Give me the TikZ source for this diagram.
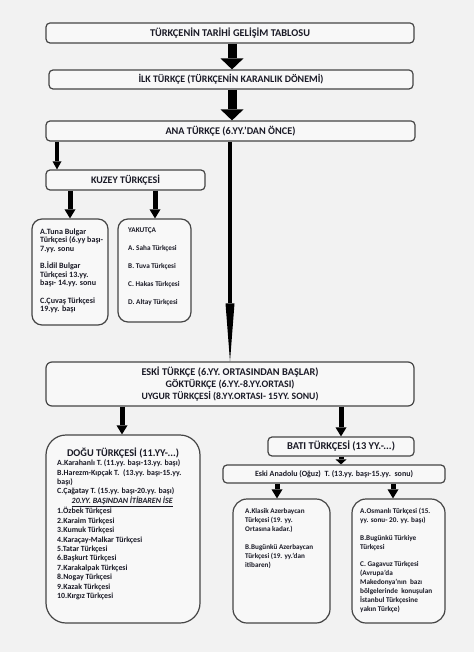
\documentclass[tikz,border=0pt]{standalone}
\usepackage{fontspec}
\setmainfont{Carlito}
\usetikzlibrary{arrows.meta}
\definecolor{bg}{HTML}{F2F2F2}
\definecolor{boxfill}{HTML}{F8F8F8}
\definecolor{edge}{HTML}{454545}
\definecolor{ink}{HTML}{1A1A26}
\newlength\mytmpw
% #1 macro, #2 target width in pt, #3 sample text (bold)
\newcommand\setfs[3]{%
  \settowidth\mytmpw{\normalfont\bfseries\fontsize{10}{12}\selectfont #3}%
  \pgfmathsetmacro#1{10*#2/\mytmpw}\global\let#1#1}
\newcommand\setfsit[3]{%
  \settowidth\mytmpw{\normalfont\bfseries\itshape\fontsize{10}{12}\selectfont #3}%
  \pgfmathsetmacro#1{10*#2/\mytmpw}\global\let#1#1}
\newcommand\fs[2]{\bfseries\fontsize{#1}{#2}\selectfont}
\begin{document}
% font sizes fitted to the widths measured on the reference
\setfs{\fsA}{160}{TÜRKÇENİN TARİHİ GELİŞİM TABLOSU}%
\setfs{\fsB}{185}{İLK TÜRKÇE (TÜRKÇENİN KARANLIK DÖNEMİ)}%
\setfs{\fsC}{130}{ANA TÜRKÇE (6.YY.’DAN ÖNCE)}%
\setfs{\fsK}{69}{KUZEY TÜRKÇESİ}%
\setfs{\fsEa}{177}{ESKİ TÜRKÇE (6.YY. ORTASINDAN BAŞLAR)}%
\setfs{\fsEb}{129}{GÖKTÜRKÇE (6.YY.-8.YY.ORTASI)}%
\setfs{\fsEc}{177}{UYGUR TÜRKÇESİ (8.YY.ORTASI- 15YY. SONU)}%
\setfs{\fsDt}{112}{DOĞU TÜRKÇESİ (11.YY-...)}%
\setfs{\fsBt}{108}{BATI TÜRKÇESİ (13 YY.-...)}%
\setfs{\fsAn}{158}{Eski Anadolu (Oğuz)~~T. (13.yy. başı-15.yy.~~sonu)}%
\setfs{\fsDl}{123}{A.Karahanlı T. (11.yy. başı-13.yy. başı)}%
\setfsit{\fsU}{101}{20.YY. BAŞINDAN İTİBAREN İSE}%
\setfs{\fsKl}{63}{Türkçesi (6.yy başı-}%
\setfs{\fsKr}{48.5}{A. Saha Türkçesi}%
\setfs{\fsBl}{68}{B.Bugünkü Azerbaycan}%
\setfs{\fsBr}{72}{bölgelerinde~~konuşulan}%
\begin{tikzpicture}[x=1pt,y=-1pt,
  box/.style={draw=edge, line width=1.2pt, fill=boxfill, rounded corners=4pt,
    inner sep=0pt, text=ink, align=center},
  listtext/.style={inner sep=0pt, anchor=north west, align=left, text=ink},
  bigarrow/.style={line width=9pt, -{Triangle[width=23pt,length=11pt,line width=0pt]}},
  thinarrow/.style={line width=4.5pt, -{Triangle[width=9pt,length=8pt,line width=0pt]}},
  medarrow/.style={line width=5pt, -{Triangle[width=11pt,length=9pt,line width=0pt]}},
  longarrow/.style={line width=4.5pt, -{Triangle[width=9pt,length=58pt,line width=0pt]}}]

\fill[bg] (0,0) rectangle (474,652);
\useasboundingbox (0,0) rectangle (474,652);

% top boxes
\node[box, font=\fs{\fsA}{10}, minimum width=368pt, minimum height=20pt] (t1) at (230,33) {TÜRKÇENİN TARİHİ GELİŞİM TABLOSU};
\node[box, font=\fs{\fsB}{10}, minimum width=364pt, minimum height=19pt] (t2) at (231,79.5) {İLK TÜRKÇE (TÜRKÇENİN KARANLIK DÖNEMİ)};
\node[box, font=\fs{\fsC}{10}, minimum width=369pt, minimum height=20pt] (t3) at (230.5,131) {ANA TÜRKÇE (6.YY.’DAN ÖNCE)};

% Kuzey
\node[box, font=\fs{\fsK}{10}, minimum width=159pt, minimum height=20pt] (kuzey) at (125.5,180) {KUZEY TÜRKÇESİ};
\node[box, rounded corners=10pt, minimum width=76pt, minimum height=106pt] (kl) at (70,272) {};
\node[box, rounded corners=10pt, minimum width=73pt, minimum height=103pt] (kr) at (154.5,270.5) {};
\node[listtext, font=\fs{\fsKl}{8.6}] (kltext) at (40,228.5)
  {A.Tuna Bulgar\\Türkçesi (6.yy başı-\\7.yy. sonu\\[8.6pt]B.İdil Bulgar\\Türkçesi 13.yy.\\başı- 14.yy. sonu\\[8.6pt]C.Çuvaş Türkçesi\\19.yy. başı};
\node[listtext, font=\fs{\fsKr}{18}] (krtext) at (128,228)
  {YAKUTÇA\\A. Saha Türkçesi\\B. Tuva Türkçesi\\C. Hakas Türkçesi\\D. Altay Türkçesi};

% Eski
\node[box, rounded corners=6pt, minimum width=368pt, minimum height=44pt] (eski) at (230,384)
  {\fs{\fsEa}{10}ESKİ TÜRKÇE (6.YY. ORTASINDAN BAŞLAR)\\
   \fs{\fsEb}{10}GÖKTÜRKÇE (6.YY.-8.YY.ORTASI)\\
   \fs{\fsEc}{10}UYGUR TÜRKÇESİ (8.YY.ORTASI- 15YY. SONU)};

% Dogu
\node[box, rounded corners=20pt, minimum width=154pt, minimum height=188pt] (dogu) at (123,529) {};
\node[inner sep=0pt, text=ink, font=\fs{\fsDt}{10}] (dogutitle) at (123,453) {DOĞU TÜRKÇESİ (11.YY-...)};
\node[listtext, font=\fs{\fsDl}{9.4}] (dogutext) at (57,459.6)
  {A.Karahanlı T. (11.yy. başı-13.yy. başı)\\
   B.Harezm-Kıpçak T.~~(13.yy. başı-15.yy.\\
   başı)\\
   C.Çağatay T. (15.yy. başı-20.yy. başı)\\
   \makebox[130pt][c]{\fs{\fsU}{9.4}\itshape\underline{20.YY. BAŞINDAN İTİBAREN İSE}}\\
   1.Özbek Türkçesi\\
   2.Karaim Türkçesi\\
   3.Kumuk Türkçesi\\
   4.Karaçay-Malkar Türkçesi\\
   5.Tatar Türkçesi\\
   6.Başkurt Türkçesi\\
   7.Karakalpak Türkçesi\\
   8.Nogay Türkçesi\\
   9.Kazak Türkçesi\\
   10.Kırgız Türkçesi};

% Bati
\node[box, font=\fs{\fsBt}{10}, minimum width=146pt, minimum height=19pt] (bati) at (341,446.5) {BATI TÜRKÇESİ (13 YY.-...)};
\node[box, font=\fs{\fsAn}{10}, minimum width=222pt, minimum height=18pt] (anadolu) at (334,474) {Eski Anadolu (Oğuz)~~T. (13.yy. başı-15.yy.~~sonu)};
\node[box, rounded corners=14pt, minimum width=97pt, minimum height=124pt] (bl) at (281.5,561) {};
\node[box, rounded corners=14pt, minimum width=93pt, minimum height=124pt] (br) at (398.5,561) {};
\node[listtext, font=\fs{\fsBl}{8.7}] (bltext) at (245,508.6)
  {A.Klasik Azerbaycan\\Türkçesi (19. yy.\\Ortasına kadar.)\\[10pt]B.Bugünkü Azerbaycan\\Türkçesi (19. yy.’dan\\itibaren)};
\node[listtext, font=\fs{\fsBr}{8.9}] (brtext) at (360,508)
  {A.Osmanlı Türkçesi (15.\\yy. sonu- 20. yy. başı)\\[8.9pt]B.Bugünkü Türkiye\\Türkçesi\\[8.9pt]C. Gagavuz Türkçesi\\(Avrupa’da\\Makedonya’nın~~bazı\\bölgelerinde~~konuşulan\\İstanbul Türkçesine\\yakın Türkçe)};

% arrows
\coordinate (xa) at (232,0);
\coordinate (xk) at (57,0);
\coordinate (xm) at (230,0);
\coordinate (xk1) at (70,0);
\coordinate (xk2) at (155,0);
\coordinate (xd) at (122,0);
\coordinate (xb) at (341,0);
\coordinate (xl) at (277,0);
\coordinate (xr) at (393,0);
\draw[bigarrow] (t1.south -| xa) -- (t2.north -| xa);
\draw[bigarrow] (t2.south -| xa) -- (t3.north -| xa);
\draw[thinarrow] (t3.south -| xk) -- (kuzey.north -| xk);
\draw[longarrow] (t3.south -| xm) -- (eski.north -| xm);
\draw[medarrow] (kuzey.south -| xk1) -- (kl.north -| xk1);
\draw[medarrow] (kuzey.south -| xk2) -- (kr.north -| xk2);
\draw[medarrow] (eski.south -| xd) -- (dogu.north -| xd);
\draw[medarrow] (eski.south -| xb) -- (bati.north -| xb);
\draw[line width=5pt, -{Triangle[width=11pt,length=5pt,line width=0pt]}] (bati.south -| xb) -- (anadolu.north -| xb);
\draw[medarrow] (anadolu.south -| xl) -- (bl.north -| xl);
\draw[medarrow] (anadolu.south -| xr) -- (br.north -| xr);
\end{tikzpicture}
\end{document}
